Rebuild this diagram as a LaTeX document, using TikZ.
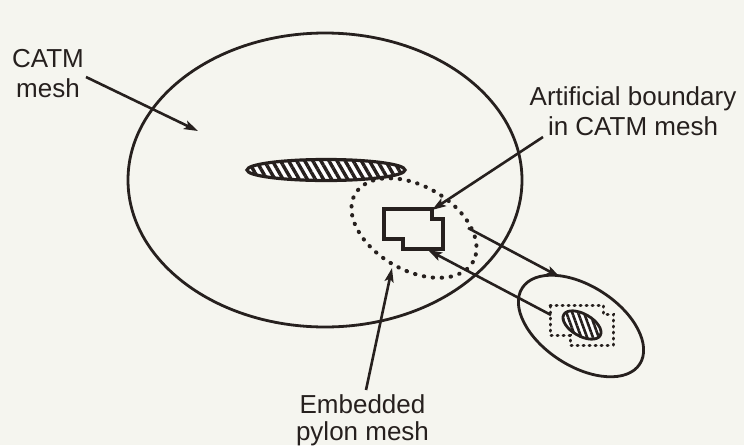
\documentclass[tikz,border=0pt]{standalone}
\usepackage{fontspec}
\setmainfont{Liberation Sans}
\usetikzlibrary{arrows.meta,patterns.meta}
\definecolor{ink}{RGB}{38,32,30}
\definecolor{paper}{RGB}{245,245,239}
\tikzset{
  label text/.style={font=\fontsize{26}{30}\selectfont, align=center, text=ink, inner sep=0pt},
  outline/.style={draw=ink, line width=2.8pt},
  pointer/.style={draw=ink, line width=2.6pt, -{Stealth[length=14pt,width=9pt,inset=3pt]}},
  dotline/.style={draw=ink, line width=4pt, line cap=round, dash pattern=on 0.5pt off 8.5pt},
  smalldots/.style={draw=ink, line width=3pt, line cap=round, dash pattern=on 1pt off 5pt},
  hatch/.style={fill=white, pattern={Lines[angle=-60,distance=7pt,line width=3.4pt]}, pattern color=ink},
}
\begin{document}
\begin{tikzpicture}[x=1pt,y=-1pt]
  % page
  \fill[paper] (0,0) rectangle (744,445);
  \useasboundingbox (0,0) rectangle (744,445);

  % CATM mesh domain
  \draw[outline] (325,180) ellipse [x radius=197, y radius=147];

  % body inside the CATM mesh
  \fill[white] (326,170) ellipse [x radius=79, y radius=10.5];
  \path[hatch] (326,170) ellipse [x radius=79, y radius=10.5];
  \draw[ink, line width=3.2pt] (326,170) ellipse [x radius=79, y radius=10.5];

  % embedded pylon mesh region
  \draw[dotline] (414,228) ellipse [x radius=68, y radius=42, rotate=-30];

  % artificial boundary cut into the CATM mesh
  \draw[ink, line width=3.2pt, line join=miter]
    (384,209) -- (432,209) -- (432,219) -- (443,219) -- (443,249)
    -- (403,249) -- (403,239) -- (384,239) -- cycle;

  % separate pylon mesh
  \draw[outline] (581,326) ellipse [x radius=70, y radius=40, rotate=-33];
  \draw[smalldots]
    (550,305) -- (603,305) -- (603,314) -- (613,314) -- (613,345)
    -- (570,345) -- (570,335) -- (550,335) -- cycle;
  \fill[white] (582,325) ellipse [x radius=21, y radius=11, rotate=-30];
  \path[hatch, pattern={Lines[angle=-70,distance=5.5pt,line width=2.6pt]}]
    (582,325) ellipse [x radius=21, y radius=11, rotate=-30];
  \draw[ink, line width=2.8pt] (582,325) ellipse [x radius=21, y radius=11, rotate=-30];

  % labels
  \node[label text] (catm) at (48,74) {CATM\\mesh};
  \node[label text] (artif) at (633,111) {Artificial boundary\\in CATM mesh};
  \node[label text, font=\fontsize{26}{27}\selectfont] (embed) at (362.5,420) {Embedded\\pylon mesh};

  % connector ends
  \coordinate (catmS) at (86,77);
  \coordinate (catmT) at (198,131);
  \coordinate (artS) at (543,137);
  \coordinate (artT) at (432,210);
  \coordinate (embS) at (366,390);
  \coordinate (embT) at (392,268);
  \coordinate (outS) at (468,228);
  \coordinate (outT) at (560,277);
  \coordinate (backS) at (551,315);
  \coordinate (backT) at (428,250);

  % connectors
  \draw[pointer] (catmS) -- (catmT);
  \draw[pointer] (artS) -- (artT);
  \draw[pointer] (embS) -- (embT);
  \draw[pointer] (outS) -- (outT);
  \draw[pointer] (backS) -- (backT);
\end{tikzpicture}
\end{document}
